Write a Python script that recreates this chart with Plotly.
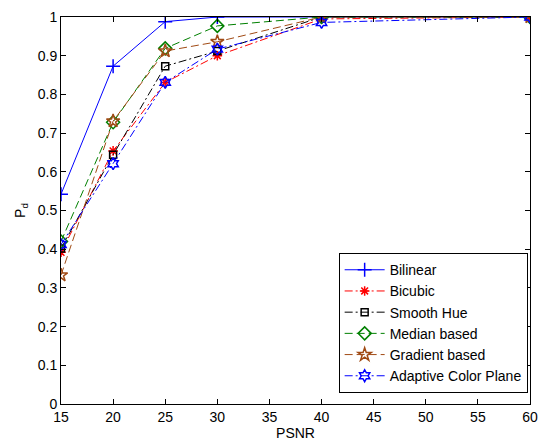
import plotly.graph_objects as go

psnr = [15, 20, 25, 30, 40, 60]
bilinear = [0.542, 0.873, 0.988, 1.0, 1.0, 1.0]
bicubic = [0.392, 0.654, 0.831, 0.900, 0.995, 1.0]
smooth_hue = [0.402, 0.644, 0.873, 0.912, 1.0, 1.0]
median_based = [0.420, 0.728, 0.919, 0.977, 1.0, 1.0]
gradient_based = [0.333, 0.731, 0.912, 0.936, 1.0, 1.0]
acp = [0.412, 0.621, 0.831, 0.917, 0.986, 1.0]

x_ticks = [15, 20, 25, 30, 35, 40, 45, 50, 55, 60]
y_ticks = [0, 0.1, 0.2, 0.3, 0.4, 0.5, 0.6, 0.7, 0.8, 0.9, 1]

DASH = "8px,4px"
DASHDOT = "8px,3px,2px,3px"

series = [
    ("Bilinear", bilinear, "#0000FF", "solid", "cross-thin-open", 10),
    ("Bicubic", bicubic, "#FF0000", DASHDOT, "asterisk-open", 8),
    ("Smooth Hue", smooth_hue, "#000000", DASHDOT, "square-open", 7),
    ("Median based", median_based, "#008000", DASH, "diamond-open", 10),
    ("Gradient based", gradient_based, "#A04A14", DASH, "star-open", 10),
    ("Adaptive Color Plane", acp, "#0000FF", DASHDOT, "hexagram-open", 9),
]

FONT = "Liberation Sans, Arial"

fig = go.Figure()
for name, ys, col, dash, sym, size in series:
    fig.add_trace(go.Scatter(
        x=psnr, y=ys, name=name, mode="lines+markers",
        line=dict(color=col, width=1, dash=dash),
        marker=dict(symbol=sym, size=size, color=col, line=dict(color=col, width=1.5)),
    ))

axis_common = dict(
    showgrid=False, zeroline=False, showline=True, linecolor="black", linewidth=1,
    mirror="ticks", ticks="inside", ticklen=5, tickcolor="black",
    tickfont=dict(family=FONT, size=14, color="black"),
)

fig.update_layout(
    width=547, height=444,
    margin=dict(l=61, r=9, t=15, b=38),
    paper_bgcolor="white", plot_bgcolor="white",
    xaxis=dict(range=[15, 60], tickvals=x_ticks, ticktext=[str(v) for v in x_ticks],
               title=dict(text="PSNR", standoff=0,
                          font=dict(family=FONT, size=14, color="black")),
               **axis_common),
    yaxis=dict(range=[0, 1], tickvals=y_ticks, ticktext=[f"{v:g}" for v in y_ticks],
               title=dict(text="P<sub>d</sub>", standoff=8,
                          font=dict(family=FONT, size=14, color="black")),
               **axis_common),
    legend=dict(
        x=0.995, y=0.028, xanchor="right", yanchor="bottom",
        bgcolor="white", bordercolor="black", borderwidth=1,
        font=dict(family=FONT, size=14, color="black"),
        tracegroupgap=0, itemwidth=40,
    ),
    showlegend=True,
)

fig.write_html("out.html")
